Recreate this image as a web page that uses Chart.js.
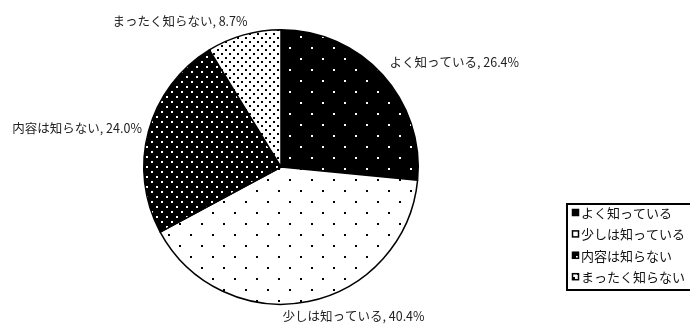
<!DOCTYPE html>
<html>
<head>
<meta charset="utf-8">
<script src="https://cdn.jsdelivr.net/npm/chart.js@4/dist/chart.umd.min.js"></script>
<style>
  body { margin: 0; background: #fff; }
  #wrap { width: 690px; height: 324px; position: relative; }
</style>
</head>
<body>
<div id="wrap"><canvas id="pieCanvas"></canvas></div>
<script>
const labels = ["よく知っている", "少しは知っている", "内容は知らない", "まったく知らない"];
const values = [26.4, 40.4, 24.0, 8.7];

const FONT = '"Noto Sans CJK JP", "Noto Sans", sans-serif';

// dotted fills, roughly like the old office print patterns
function dotPattern(size, bg, fg, dots, dot) {
  const c = document.createElement("canvas");
  c.width = size; c.height = size;
  const g = c.getContext("2d");
  g.fillStyle = bg; g.fillRect(0, 0, size, size);
  g.fillStyle = fg;
  dots.forEach(([x, y]) => g.fillRect(x, y, dot, dot));
  return g.createPattern(c, "repeat");
}
const ctx = document.getElementById("pieCanvas").getContext("2d");
const fills = [
  dotPattern(22, "#000", "#fff", [[3, 3], [14, 14]], 2),
  dotPattern(22, "#fff", "#000", [[3, 3], [14, 14]], 2),
  dotPattern(10, "#000", "#fff", [[1, 1], [6, 6]], 2),
  dotPattern(8, "#fff", "#000", [[1, 1], [5, 5]], 2)
];

// nudges for the outside labels (excel moved some of them)
const labelShift = [[-2, -4], [-28, 3], [5, 0], [7, -2]];

const outLabels = {
  id: "outLabels",
  afterDatasetsDraw(chart) {
    const c = chart.ctx;
    const arcs = chart.getDatasetMeta(0).data;
    c.save();
    c.font = "12.5px " + FONT;
    c.fillStyle = "#222";
    c.textBaseline = "middle";
    arcs.forEach((arc, i) => {
      const mid = (arc.startAngle + arc.endAngle) / 2;
      const r = arc.outerRadius + 12;
      const x = arc.x + Math.cos(mid) * r;
      const y = arc.y + Math.sin(mid) * r;
      c.textAlign = x > arc.x ? "left" : "right";
      const txt = labels[i] + ", " + values[i].toFixed(1) + "%";
      c.fillText(txt, x + labelShift[i][0], y + labelShift[i][1]);
    });
    c.restore();
  }
};

const boxLegend = {
  id: "boxLegend",
  afterDraw(chart) {
    const c = chart.ctx;
    c.save();
    c.lineWidth = 2;
    c.strokeStyle = "#000";
    c.strokeRect(567, 204, 130, 86);
    c.font = "13px " + FONT;
    c.textBaseline = "middle";
    c.textAlign = "left";
    labels.forEach((lab, i) => {
      const y = 213 + i * 21.4;
      c.fillStyle = fills[i];
      c.fillRect(572, y - 4, 7, 7);
      c.lineWidth = 1.5;
      c.strokeRect(572.5, y - 3.5, 6, 6);
      c.fillStyle = "#111";
      c.fillText(lab, 581, y);
    });
    c.restore();
  }
};

new Chart(ctx, {
  type: "pie",
  data: {
    labels: labels,
    datasets: [{
      data: values,
      backgroundColor: fills,
      borderColor: "#000",
      borderWidth: 1.5
    }]
  },
  options: {
    responsive: true,
    maintainAspectRatio: false,
    animation: false,
    layout: { padding: { top: 29, bottom: 19, left: 0, right: 128 } },
    plugins: { legend: { display: false }, tooltip: { enabled: false } }
  },
  plugins: [outLabels, boxLegend]
});
</script>
</body>
</html>
